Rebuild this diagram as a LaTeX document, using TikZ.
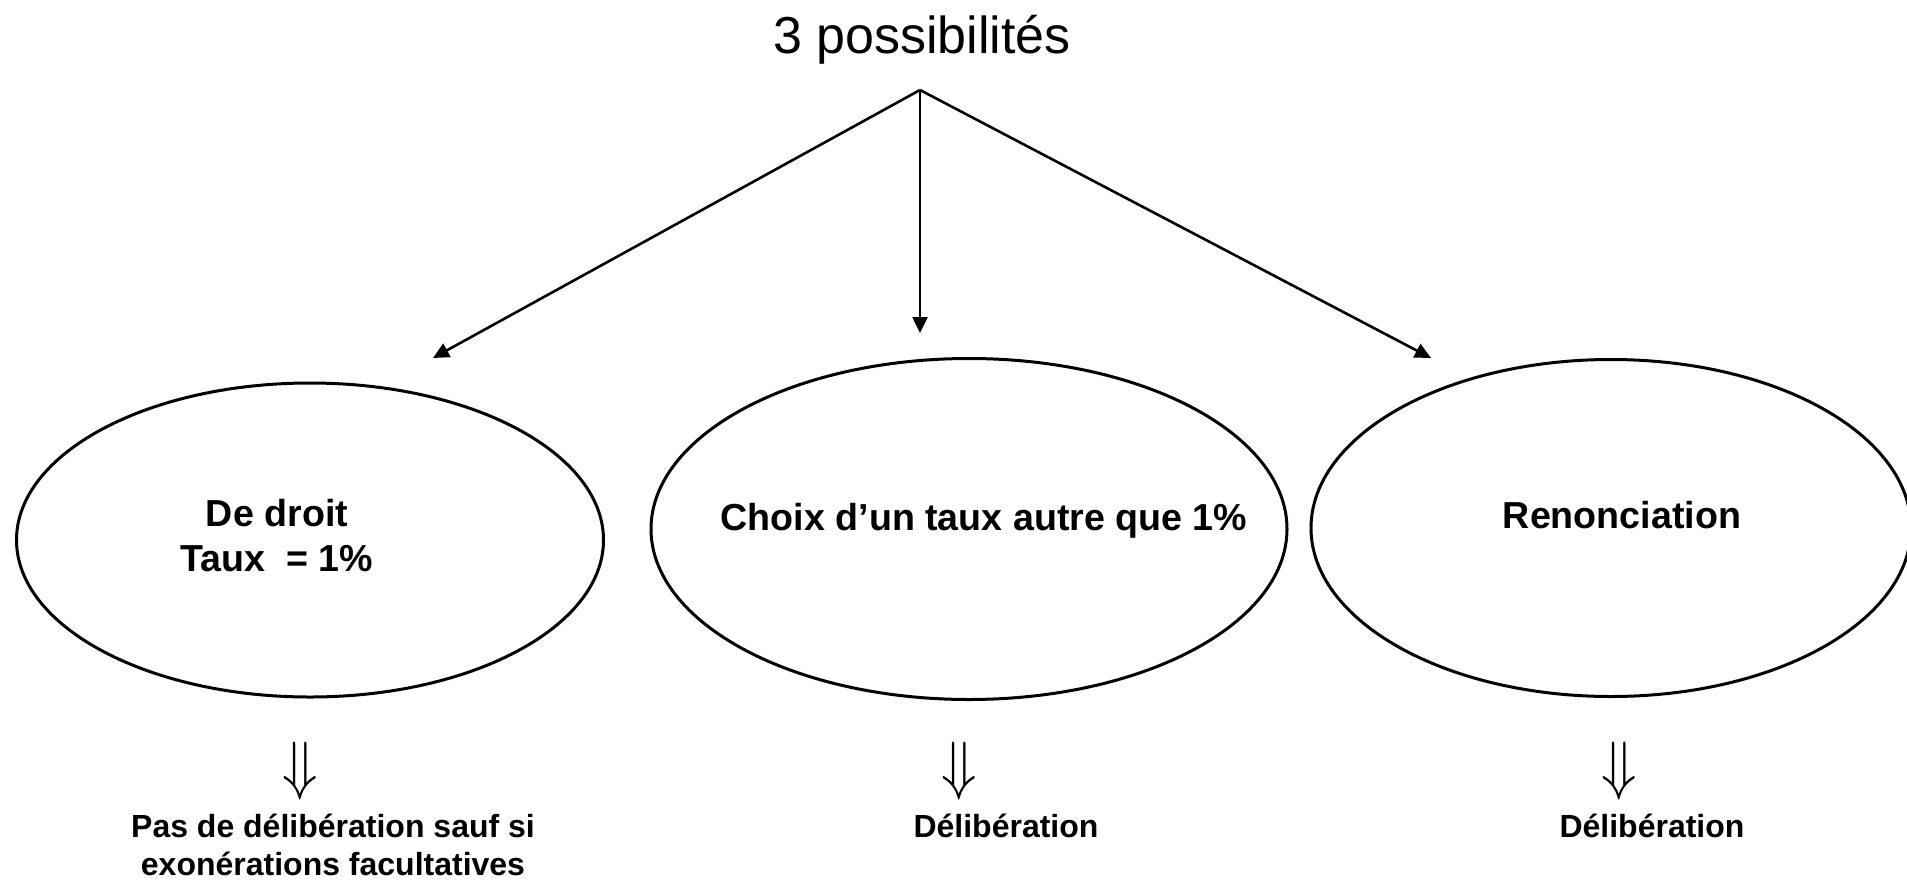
\documentclass[tikz,border=0pt]{standalone}
\usepackage{fontspec}
\setmainfont{Liberation Sans}
\usepackage{graphicx}
\usetikzlibrary{shapes.geometric,arrows.meta}

\begin{document}
\begin{tikzpicture}[x=0.5pt,y=-0.5pt,line width=1.3pt,
    ovale/.style={draw,ellipse,line width=1.5pt,inner sep=0pt},
    lien/.style={-{Triangle[length=8pt,width=7.5pt]}},
    dedans/.style={font=\bfseries\fontsize{18.8}{22.5}\selectfont,align=center,anchor=base},
    issue/.style={font=\bfseries\fontsize{16}{19}\selectfont,align=center,anchor=base},
    donc/.style={inner sep=0pt}]
			\useasboundingbox (0,0) rectangle (1907,879);
			\node[anchor=base,font=\fontsize{26}{30}\selectfont] (titre) at (922,53) {3 possibilités};
			\coordinate (haut) at (920,90);
			\coordinate (finG) at (433,358);
			\coordinate (finM) at (920,333);
			\coordinate (finD) at (1431,358);
			\draw [lien] (haut) -- (finG);
			\draw [lien] (haut) -- (finM);
			\draw [lien] (haut) -- (finD);
			% les trois cas
			\node[ovale,minimum width=293.5pt,minimum height=157pt] (droit) at (310,540) {};
			\node[ovale,minimum width=318pt,minimum height=170.5pt] (choix) at (969,529) {};
			\node[ovale,minimum width=300pt,minimum height=168.5pt] (renonc) at (1611,528) {};
			\node[dedans] (txtdroit) at (277,571) {De droit\\Taux\ \ = 1\%};
			\node[dedans] (txtchoix) at (984,530) {Choix d’un taux autre que 1\%};
			\node[dedans] (txtrenonc) at (1622,528) {Renonciation};
			% consequences
			\node[donc] (doncG) at (300,771) {\scalebox{2.9}[3.27]{$\Downarrow$}};
			\node[donc] (doncM) at (959,771) {\scalebox{2.9}[3.27]{$\Downarrow$}};
			\node[donc] (doncD) at (1619,771) {\scalebox{2.9}[3.27]{$\Downarrow$}};
			\node[issue] (resG) at (333,875) {Pas de délibération sauf si\\exonérations facultatives};
			\node[issue] (resM) at (1006,837) {Délibération};
			\node[issue] (resD) at (1652,837) {Délibération};
\end{tikzpicture}
\end{document}
